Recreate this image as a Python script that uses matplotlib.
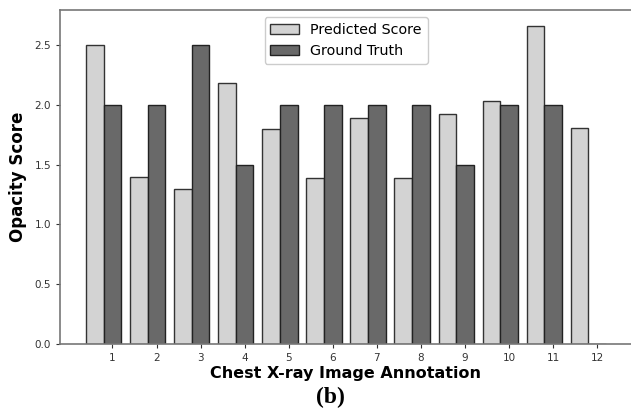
import numpy as np
import matplotlib
matplotlib.use("Agg")
import matplotlib.pyplot as plt

labels = [str(i) for i in range(1, 13)]
predicted = [2.50, 1.40, 1.30, 2.18, 1.80, 1.39, 1.89, 1.39, 1.92, 2.03, 2.66, 1.81]
ground_truth = [2.0, 2.0, 2.5, 1.5, 2.0, 2.0, 2.0, 2.0, 1.5, 2.0, 2.0, 0.0]

W, H = 631, 417
fig = plt.figure(figsize=(W / 100, H / 100), dpi=100)
ax = fig.add_axes([60 / W, (H - 344) / H, 572 / W, 334 / H])

x = np.arange(1, 13)
w = 0.4
ax.bar(x - w, predicted, width=w, color='#d3d3d3', edgecolor='#333333', linewidth=1.0, label='Predicted Score')
ax.bar(x, ground_truth, width=w, color='#696969', edgecolor='#222222', linewidth=1.0, label='Ground Truth')

ax.set_xticks(x)
ax.set_xticklabels(labels)
ax.set_yticks([0.0, 0.5, 1.0, 1.5, 2.0, 2.5])
ax.tick_params(axis='both', labelsize=7.5, colors='#333333', length=3, width=0.8)
for s in ax.spines.values():
    s.set_color('#777777')
    s.set_linewidth(1.2)

ax.set_ylabel('Opacity Score', fontsize=12, fontweight='bold', labelpad=5)
ax.set_xlabel('Chest X-ray Image Annotation', fontsize=11.5, fontweight='bold', labelpad=2)
ax.legend(loc='upper center', fontsize=10.3, framealpha=1, bbox_to_anchor=(0.5, 1.0))

fig.text(330 / W, 1 - 397 / H, '(b)', family='Liberation Serif', fontweight='bold', fontsize=17, ha='center', va='center')

fig.savefig('out.png', dpi=100)
